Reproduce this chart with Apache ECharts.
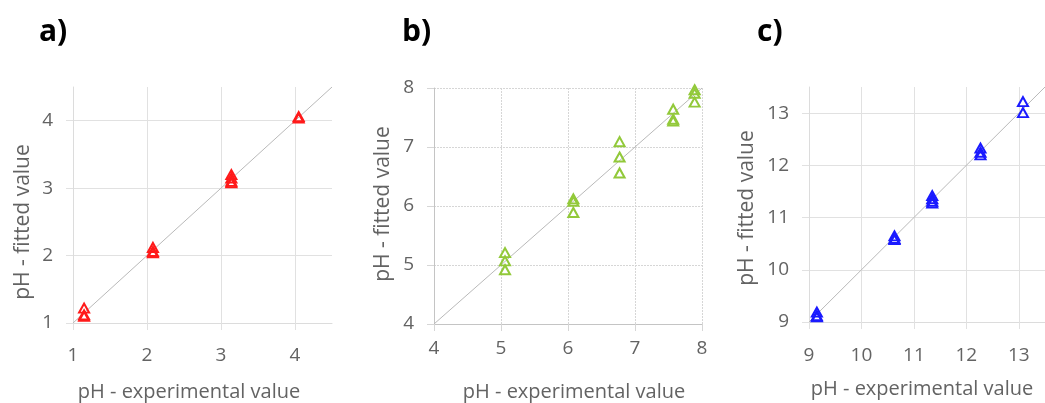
<!DOCTYPE html>
<html>
<head>
<meta charset="utf-8">
<title>pH fitted vs experimental</title>
<script src="https://cdn.jsdelivr.net/npm/echarts@6/dist/echarts.min.js"></script>
<style>
  html, body { margin: 0; padding: 0; background: #ffffff; }
  #chart { width: 1045px; height: 403px; }
</style>
</head>
<body>
<div id="chart"></div>
<script>
// Panel a) – acidic range
const expA = [1.15, 1.15, 1.15, 2.08, 2.08, 2.08, 3.14, 3.14, 3.14, 3.14, 4.05, 4.05];
const fitA = [1.22, 1.12, 1.10, 2.12, 2.06, 2.04, 3.20, 3.15, 3.10, 3.08, 4.06, 4.04];
const rangeA = [1, 4.5];
const ticksA = [1, 2, 3, 4];

// Panel b) – mid range
const expB = [5.06, 5.06, 5.06, 6.08, 6.08, 6.08, 6.77, 6.77, 6.77, 7.57, 7.57, 7.57, 7.89, 7.89, 7.89];
const fitB = [5.21, 5.07, 4.92, 6.12, 6.08, 5.89, 7.09, 6.83, 6.56, 7.64, 7.47, 7.44, 7.97, 7.91, 7.76];
const rangeB = [4, 8];
const ticksB = [4, 5, 6, 7, 8];

// Panel c) – alkaline range
const expC = [9.15, 9.15, 9.15, 10.63, 10.63, 10.63, 11.35, 11.35, 11.35, 11.35, 12.27, 12.27, 12.27, 13.08, 13.08];
const fitC = [9.19, 9.12, 9.10, 10.65, 10.60, 10.58, 11.42, 11.36, 11.31, 11.28, 12.33, 12.25, 12.20, 13.22, 13.01];
const rangeC = [9, 13.5];
const ticksC = [9, 10, 11, 12, 13];

const panelLabels = ['a)', 'b)', 'c)'];
const xName = 'pH - experimental value';
const yName = 'pH - fitted value';

const FONT = '"Open Sans", "Noto Sans", sans-serif';
const TEXT_GREY = '#636363';

const panels = [
  { exp: expA, fit: fitA, range: rangeA, ticks: ticksA, color: '#ff1a1a',
    grid: { left: 73, top: 87, width: 259, height: 236 },
    gridColor: '#e1e1e1', axisColor: '#dcdcdc', gridType: 'solid', xMargin: 23,
    label: [39, 17], xNamePos: [189, 392], yNamePos: [23, 222] },
  { exp: expB, fit: fitB, range: rangeB, ticks: ticksB, color: '#92c93a',
    grid: { left: 434, top: 88, width: 268, height: 236 },
    gridColor: '#d6d6d6', axisColor: '#c4c4c4', gridType: [2, 1], xMargin: 15,
    label: [402, 17], xNamePos: [574, 392], yNamePos: [383, 204] },
  { exp: expC, fit: fitC, range: rangeC, ticks: ticksC, color: '#1a1aff',
    grid: { left: 809, top: 87, width: 248, height: 235 },
    gridColor: '#e1e1e1', axisColor: '#dcdcdc', gridType: 'solid', xMargin: 24,
    label: [757, 17], xNamePos: [922, 389], yNamePos: [747, 208] }
];

function pairs(xs, ys) {
  return xs.map((x, i) => [x, ys[i]]);
}

function axis(p, isX) {
  return {
    type: 'value',
    gridIndex: panels.indexOf(p),
    min: p.range[0],
    max: p.range[1],
    interval: 1,
    axisLine: { show: true, lineStyle: { color: p.axisColor, width: 1 } },
    axisTick: { show: true, length: 7, customValues: p.ticks,
                lineStyle: { color: p.gridColor, width: 1 } },
    axisLabel: { customValues: p.ticks, margin: isX ? p.xMargin : 20,
                 color: TEXT_GREY, fontSize: 19, fontFamily: FONT },
    splitLine: { show: true, lineStyle: { color: p.gridColor, width: 1, type: p.gridType } }
  };
}

const option = {
  backgroundColor: '#ffffff',
  animation: false,
  grid: panels.map(p => Object.assign({ containLabel: false }, p.grid)),
  xAxis: panels.map(p => axis(p, true)),
  yAxis: panels.map(p => axis(p, false)),
  series: panels.flatMap((p, i) => [
    {
      type: 'line',
      xAxisIndex: i, yAxisIndex: i,
      data: [[p.range[0], p.range[0]], [p.range[1], p.range[1]]],
      symbol: 'none',
      lineStyle: { color: '#b9b9b9', width: 1 },
      z: 1, silent: true
    },
    {
      type: 'scatter',
      xAxisIndex: i, yAxisIndex: i,
      data: pairs(p.exp, p.fit),
      symbol: 'triangle',
      symbolSize: [10, 9],
      itemStyle: { color: 'rgba(255,255,255,0)', borderColor: p.color, borderWidth: 2, opacity: 1 },
      z: 3
    }
  ]),
  graphic: panels.flatMap((p, i) => [
    {
      type: 'text', left: p.label[0], top: p.label[1],
      style: { text: panelLabels[i], fontSize: 30, fontWeight: 'bold', fontFamily: FONT, fill: '#000000' }
    },
    {
      type: 'text', x: p.xNamePos[0], y: p.xNamePos[1],
      style: { text: xName, fontSize: 20, fontFamily: FONT, fill: TEXT_GREY,
               align: 'center', verticalAlign: 'middle' }
    },
    {
      type: 'text', x: p.yNamePos[0], y: p.yNamePos[1], rotation: Math.PI / 2,
      style: { text: yName, fontSize: 21, fontFamily: FONT, fill: TEXT_GREY,
               align: 'center', verticalAlign: 'middle' }
    }
  ])
};

const chart = echarts.init(document.getElementById('chart'), null, { renderer: 'canvas' });
chart.setOption(option);
</script>
</body>
</html>
